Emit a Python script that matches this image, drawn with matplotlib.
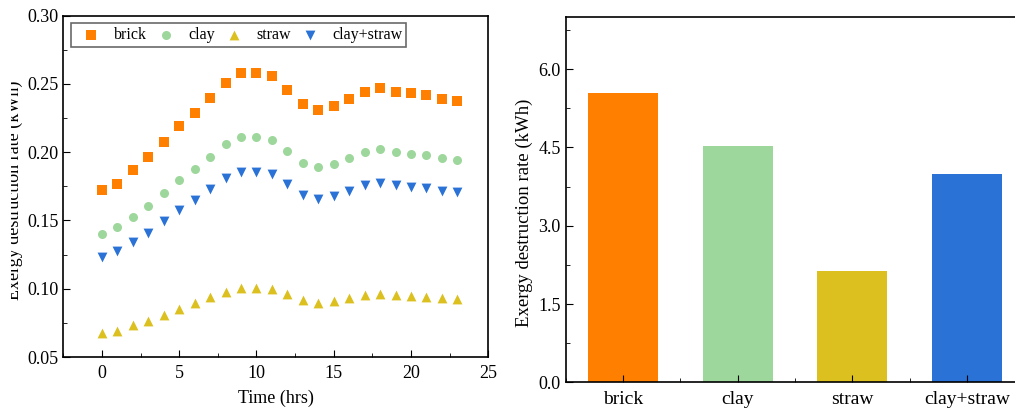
import numpy as np
import matplotlib
matplotlib.use("Agg")
import matplotlib.pyplot as plt
from matplotlib.ticker import MultipleLocator
from matplotlib.transforms import Bbox, TransformedBbox

plt.rcParams['font.family'] = ['Liberation Serif', 'DejaVu Serif']

hours = list(range(24))
brick = [0.172, 0.177, 0.187, 0.1965, 0.2075, 0.219, 0.229, 0.240, 0.251, 0.258,
         0.258, 0.2556, 0.2456, 0.2353, 0.231, 0.234, 0.239, 0.244, 0.247, 0.244,
         0.2436, 0.242, 0.239, 0.2378]
clay = [0.1403, 0.145, 0.1528, 0.1606, 0.1699, 0.1794, 0.1879, 0.1967, 0.2058, 0.2114,
        0.2114, 0.2092, 0.2011, 0.1923, 0.1889, 0.1911, 0.1955, 0.1999, 0.2023, 0.1999,
        0.1989, 0.1977, 0.1955, 0.1945]
straw = [0.0673, 0.0693, 0.0732, 0.0766, 0.081, 0.0854, 0.0896, 0.0937, 0.0979, 0.1008,
         0.1008, 0.0996, 0.0959, 0.0915, 0.0898, 0.091, 0.0932, 0.0952, 0.0964, 0.0952,
         0.0947, 0.0942, 0.0932, 0.0927]
clay_straw = [0.1232, 0.1274, 0.134, 0.1411, 0.1494, 0.1577, 0.1652, 0.173, 0.1809, 0.1857,
              0.1857, 0.1838, 0.177, 0.1689, 0.166, 0.1682, 0.1718, 0.1757, 0.1777, 0.1757,
              0.1748, 0.1738, 0.1718, 0.1708]

materials = ['brick', 'clay', 'straw', 'clay+straw']
totals = [5.55, 4.535, 2.14, 4.00]
colors = ['#FF7F00', '#9DD79B', '#DCC020', '#2A72D6']
markers = ['s', 'o', '^', 'v']
sizes = [42, 42, 50, 50]

W, H = 1015, 411
fig = plt.figure(figsize=(W / 100, H / 100), dpi=100)

# left panel: hourly rates
ax1 = fig.add_axes([63.3 / W, 1 - 357 / H, 425 / W, (357 - 15.7) / H])
for series, name, c, m, s in zip([brick, clay, straw, clay_straw], materials, colors, markers, sizes):
    ax1.scatter(hours, series, s=s, marker=m, color=c, label=name, linewidths=0)
ax1.set_xlim(-2.5, 25)
ax1.set_ylim(0.05, 0.30)
ax1.xaxis.set_major_locator(MultipleLocator(5))
ax1.xaxis.set_minor_locator(MultipleLocator(2.5))
ax1.yaxis.set_major_locator(MultipleLocator(0.05))
ax1.yaxis.set_minor_locator(MultipleLocator(0.025))
ax1.yaxis.set_major_formatter(plt.FormatStrFormatter('%.2f'))
ax1.tick_params(which='both', direction='in', top=False, right=False, labelsize=13)
ax1.tick_params(axis='x', pad=6)
ax1.tick_params(which='major', length=5)
ax1.tick_params(which='minor', length=3)
ax1.set_xlabel('Time (hrs)', fontsize=13, labelpad=5)
ax1.set_ylabel('Exergy destruction rate (kWh)', fontsize=13)
ax1.yaxis.set_label_coords((23 - 63.3) / 425, (357 - 190) / 341.3)
# the original label is cut off at its left side
lab = ax1.yaxis.label
lab.set_clip_box(TransformedBbox(Bbox([[11 / W, 0], [1, 1]]), fig.transFigure))
lab.set_clip_on(True)
leg = ax1.legend(loc='upper left', ncol=4, fontsize=11.5, frameon=True, fancybox=False,
                 edgecolor='#444444', handlelength=2.0, handletextpad=0.4,
                 columnspacing=0.2, borderpad=0.25, borderaxespad=0,
                 bbox_to_anchor=(8 / 425, 1 - 7 / 341.3))
leg.get_frame().set_linewidth(1.2)

# right panel: daily totals (cut at the right edge in the original)
ax2 = fig.add_axes([565.7 / W, 1 - 382.3 / H, 458.5 / W, (382.3 - 17) / H])
x = np.arange(len(materials))
ax2.bar(x, totals, width=0.61, color=colors)
ax2.set_xlim(-0.5, 3.5)
ax2.set_ylim(0, 7.0)
ax2.set_xticks(x)
ax2.set_xticklabels(materials)
ax2.xaxis.set_minor_locator(MultipleLocator(0.5))
ax2.yaxis.set_major_locator(MultipleLocator(1.5))
ax2.yaxis.set_minor_locator(MultipleLocator(0.75))
ax2.yaxis.set_major_formatter(plt.FormatStrFormatter('%.1f'))
ax2.tick_params(which='both', direction='in', top=False, right=False, labelsize=13)
ax2.tick_params(axis='x', labelsize=14, pad=6)
ax2.tick_params(which='major', length=5)
ax2.tick_params(which='minor', length=3)
ax2.set_ylabel('Exergy destruction rate (kWh)', fontsize=13.5)
ax2.yaxis.set_label_coords((533 - 565.7) / 458.5, (382.3 - 213) / 365.3)

for ax in (ax1, ax2):
    for sp in ax.spines.values():
        sp.set_linewidth(1.2)

fig.savefig('out.png', dpi=100)
